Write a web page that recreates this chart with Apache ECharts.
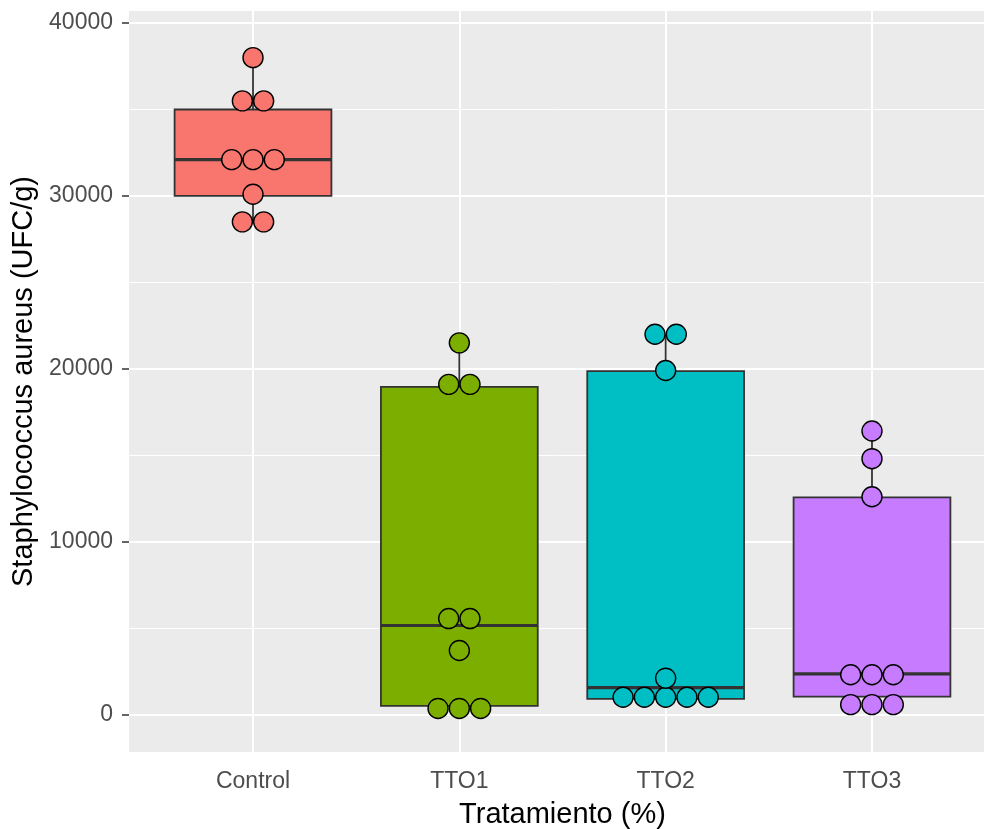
<!DOCTYPE html>
<html><head><meta charset="utf-8">
<script src="https://cdn.jsdelivr.net/npm/echarts@6/dist/echarts.min.js"></script>
<style>html,body{margin:0;padding:0;background:#fff}#c{width:984px;height:829px}</style>
</head><body><div id="c"></div>
<script>
// ---- data ----
const categories = ['Control', 'TTO1', 'TTO2', 'TTO3'];
const fillColors = ['#F8766D', '#7CAE00', '#00BFC4', '#C77CFF'];
const boxMin    = [28500,   350,   900,   570];
const boxQ1     = [30000,   500,   900,  1030];
const boxMedian = [32100,  5150,  1550,  2350];
const boxQ3     = [35000, 18950, 19870, 12560];
const boxMax    = [38000, 21500, 22000, 16400];
const dotsControl = [38000, 35500, 35500, 32100, 32100, 32100, 30100, 28500, 28500];
const dotsTTO1    = [21500, 19100, 19100, 5550, 5550, 3700, 350, 350, 350];
const dotsTTO2    = [22000, 22000, 19900, 2100, 1000, 1000, 1000, 1000, 1000];
const dotsTTO3    = [16400, 14800, 12600, 2300, 2300, 2300, 570, 570, 570];
const yTicks = [0, 10000, 20000, 30000, 40000];
const yMinorTicks = [5000, 15000, 25000, 35000];
const yRange = [-2170, 40700];

// ---- build ----
const allDots = [dotsControl, dotsTTO1, dotsTTO2, dotsTTO3];
const DOT = 21.3;
const dotData = [];
allDots.forEach((arr, ci) => {
  const groups = {};
  arr.forEach(v => { (groups[v] = groups[v] || []).push(v); });
  Object.keys(groups).forEach(k => {
    const g = groups[k];
    g.forEach((v, i) => {
      dotData.push({
        value: [ci, v],
        symbolOffset: [(i - (g.length - 1) / 2) * DOT, 0],
        itemStyle: { color: fillColors[ci] }
      });
    });
  });
});
const boxData = categories.map((c, i) => [i, boxMin[i], boxQ1[i], boxMedian[i], boxQ3[i], boxMax[i]]);

const FONT = 'Liberation Sans, Arial, sans-serif';
const chart = echarts.init(document.getElementById('c'), null, { renderer: 'canvas' });
const gridTop = 11, gridBottom = 77;
chart.setOption({
  animation: false,
  backgroundColor: '#ffffff',
  grid: [
    { left: 129, right: 0, top: gridTop, bottom: gridBottom, show: true, backgroundColor: '#EBEBEB', borderWidth: 0, containLabel: false, outerBoundsMode: 'none' },
    { left: 149.85, right: 8.85, top: gridTop, bottom: gridBottom, containLabel: false, outerBoundsMode: 'none' }
  ],
  xAxis: [
    { gridIndex: 0, type: 'value', min: 0, max: 1, show: false },
    {
      gridIndex: 1, type: 'category', data: categories,
      axisLine: { show: false },
      axisTick: { show: true, alignWithLabel: true, length: 7, lineStyle: { color: '#333333', width: 1.5 } },
      axisLabel: { color: '#4D4D4D', fontSize: 23, fontFamily: FONT, margin: 18 },
      splitLine: { show: false },
      name: 'Tratamiento (%)', nameLocation: 'middle', nameGap: 48,
      nameTextStyle: { color: '#000000', fontSize: 29, fontFamily: FONT }
    }
  ],
  yAxis: [
    {
      gridIndex: 0, type: 'value', min: yRange[0], max: yRange[1],
      axisLine: { show: false },
      axisTick: { show: true, length: 7, customValues: yTicks, lineStyle: { color: '#333333', width: 1.5 } },
      axisLabel: { color: '#4D4D4D', fontSize: 23, fontFamily: FONT, margin: 16, customValues: yTicks,
        formatter: v => String(v) },
      splitLine: { show: false },
      name: 'Staphylococcus aureus (UFC/g)', nameLocation: 'middle', nameGap: 86,
      nameTextStyle: { color: '#000000', fontSize: 29, fontFamily: FONT }
    },
    { gridIndex: 1, type: 'value', min: yRange[0], max: yRange[1], show: false }
  ],
  series: [
    {
      type: 'line', xAxisIndex: 0, yAxisIndex: 0, data: [], silent: true,
      markLine: {
        silent: true, symbol: ['none', 'none'], label: { show: false }, z: 1,
        data: [
          ...yMinorTicks.map(v => ({ yAxis: v, lineStyle: { color: '#FFFFFF', width: 1, type: 'solid' } })),
          ...yTicks.map(v => ({ yAxis: v, lineStyle: { color: '#FFFFFF', width: 2, type: 'solid' } }))
        ]
      }
    },
    {
      type: 'custom', xAxisIndex: 1, yAxisIndex: 1, z: 10, data: boxData,
      encode: { x: 0, y: [1, 2, 3, 4, 5] },
      renderItem: function (params, api) {
        const idx = api.value(0);
        const mn = api.coord([idx, api.value(1)]);
        const q1 = api.coord([idx, api.value(2)]);
        const md = api.coord([idx, api.value(3)]);
        const q3 = api.coord([idx, api.value(4)]);
        const mx = api.coord([idx, api.value(5)]);
        const w = api.size([1, 0])[0] * 0.76;
        const cx = md[0];
        const ls = { stroke: '#333333', lineWidth: 1.8 };
        return {
          type: 'group', children: [
            { type: 'line', shape: { x1: cx, y1: q3[1], x2: cx, y2: mx[1] }, style: ls },
            { type: 'line', shape: { x1: cx, y1: q1[1], x2: cx, y2: mn[1] }, style: ls },
            { type: 'rect', shape: { x: cx - w / 2, y: q3[1], width: w, height: q1[1] - q3[1] },
              style: { fill: fillColors[idx], stroke: '#333333', lineWidth: 1.8 } },
            { type: 'line', shape: { x1: cx - w / 2, y1: md[1], x2: cx + w / 2, y2: md[1] },
              style: { stroke: '#333333', lineWidth: 3.2 } }
          ]
        };
      },
      markLine: {
        silent: true, symbol: ['none', 'none'], label: { show: false }, z: 1,
        data: categories.map(c => ({ xAxis: c, lineStyle: { color: '#FFFFFF', width: 2, type: 'solid' } }))
      }
    },
    {
      type: 'scatter', xAxisIndex: 1, yAxisIndex: 1, z: 20, silent: true,
      symbol: 'circle', symbolSize: 20,
      itemStyle: { borderColor: '#000000', borderWidth: 1.4, opacity: 1 },
      data: dotData
    }
  ]
});
</script></body></html>
